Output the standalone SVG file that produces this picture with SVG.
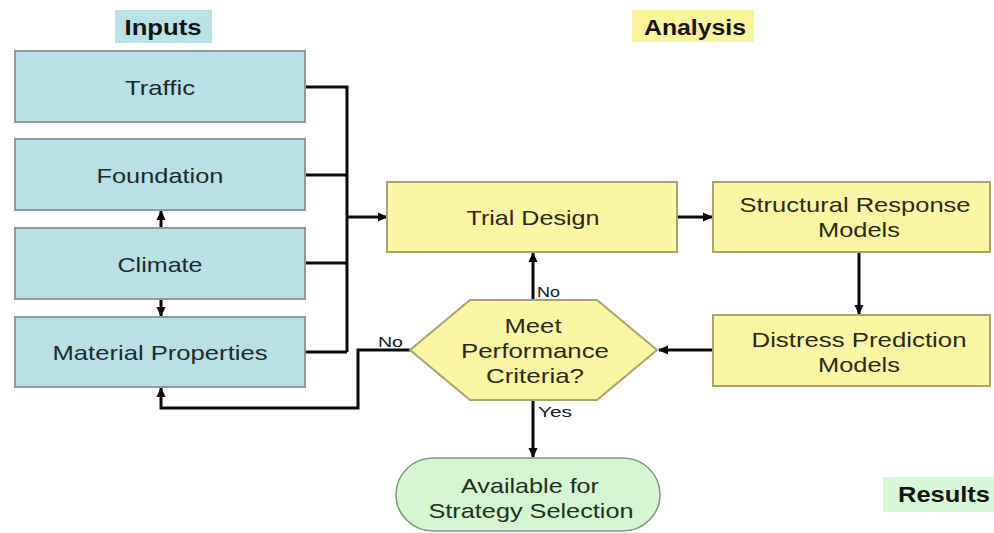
<svg xmlns="http://www.w3.org/2000/svg" width="994" height="533" viewBox="0 0 994 533">
<style>
.bg{fill:#ffffff}
.in{fill:#b9e1e5;stroke:#8c9c9c;stroke-width:2}
.an{fill:#fbf6a4;stroke:#a8a46e;stroke-width:2}
.rs{fill:#d5f5d3;stroke:#7c9a7a;stroke-width:1.5}
.t{font-family:"Liberation Sans",Arial,sans-serif;font-size:21px;text-anchor:middle;fill:#1e2a2a}
.ty{font-family:"Liberation Sans",Arial,sans-serif;font-size:21px;text-anchor:middle;fill:#2a2a14}
.tg{font-family:"Liberation Sans",Arial,sans-serif;font-size:21px;text-anchor:middle;fill:#1e3020}
.lb{font-family:"Liberation Sans",Arial,sans-serif;font-size:22px;font-weight:bold;text-anchor:middle;fill:#141414}
.sm{font-family:"Liberation Sans",Arial,sans-serif;font-size:15px;fill:#1a1a1a}
.c{fill:none;stroke:#0a0a0a;stroke-width:3}
</style>
<defs>
<marker id="ah" markerUnits="userSpaceOnUse" markerWidth="10" markerHeight="10" refX="9" refY="5" orient="auto">
<path d="M0,0.5 L10,5 L0,9.5 z" fill="#0a0a0a"/>
</marker>
</defs>
<rect class="bg" x="0" y="0" width="994" height="533"/>

<g id="label-inputs">
<rect x="115" y="10" width="97" height="33" fill="#b9e2e6"/>
<text class="lb" x="163" y="35" textLength="77" lengthAdjust="spacingAndGlyphs">Inputs</text>
</g>
<g id="label-analysis">
<rect x="632" y="10" width="122" height="32" fill="#fbf59a"/>
<text class="lb" x="695" y="35" textLength="102" lengthAdjust="spacingAndGlyphs">Analysis</text>
</g>
<g id="label-results">
<rect x="883" y="477" width="111" height="35" fill="#d8f6d8"/>
<text class="lb" x="944" y="502" textLength="92" lengthAdjust="spacingAndGlyphs">Results</text>
</g>

<g id="connectors">
<path class="c" d="M305,87 H347 V352"/>
<path class="c" d="M305,175 H347"/>
<path class="c" d="M305,263 H347"/>
<path class="c" d="M305,352 H347"/>
<path class="c" d="M347,217 H387" marker-end="url(#ah)"/>
<path class="c" d="M161,228 V211" marker-end="url(#ah)"/>
<path class="c" d="M161,299 V316" marker-end="url(#ah)"/>
<path class="c" d="M677,217 H712" marker-end="url(#ah)"/>
<path class="c" d="M859,252 V314" marker-end="url(#ah)"/>
<path class="c" d="M713,350 H659" marker-end="url(#ah)"/>
<path class="c" d="M533,300 V253" marker-end="url(#ah)"/>
<path class="c" d="M533,400 V457" marker-end="url(#ah)"/>
<path class="c" d="M410,350 H358 V408 H161 V388" marker-end="url(#ah)"/>
<text class="sm" x="537" y="297" textLength="23" lengthAdjust="spacingAndGlyphs">No</text>
<text class="sm" x="538" y="417" textLength="34" lengthAdjust="spacingAndGlyphs">Yes</text>
<text class="sm" x="378" y="347" textLength="25" lengthAdjust="spacingAndGlyphs">No</text>
</g>

<g id="traffic">
<rect class="in" x="15" y="51" width="290" height="71"/>
<text class="t" x="160" y="95" textLength="70" lengthAdjust="spacingAndGlyphs">Traffic</text>
</g>
<g id="foundation">
<rect class="in" x="15" y="139" width="290" height="71"/>
<text class="t" x="160" y="183" textLength="127" lengthAdjust="spacingAndGlyphs">Foundation</text>
</g>
<g id="climate">
<rect class="in" x="15" y="228" width="290" height="71"/>
<text class="t" x="160" y="272" textLength="85" lengthAdjust="spacingAndGlyphs">Climate</text>
</g>
<g id="material-properties">
<rect class="in" x="15" y="317" width="290" height="70"/>
<text class="t" x="160" y="360" textLength="215" lengthAdjust="spacingAndGlyphs">Material Properties</text>
</g>

<g id="trial-design">
<rect class="an" x="387" y="182" width="290" height="70"/>
<text class="ty" x="533" y="225" textLength="133" lengthAdjust="spacingAndGlyphs">Trial Design</text>
</g>
<g id="structural-response">
<rect class="an" x="713" y="182" width="277" height="70"/>
<text class="ty" x="855" y="212" textLength="231" lengthAdjust="spacingAndGlyphs">Structural Response</text>
<text class="ty" x="859" y="237" textLength="82" lengthAdjust="spacingAndGlyphs">Models</text>
</g>
<g id="distress-prediction">
<rect class="an" x="713" y="315" width="277" height="71"/>
<text class="ty" x="859" y="347" textLength="215" lengthAdjust="spacingAndGlyphs">Distress Prediction</text>
<text class="ty" x="859" y="372" textLength="82" lengthAdjust="spacingAndGlyphs">Models</text>
</g>
<g id="meet-criteria">
<polygon class="an" points="410,350 470,300 597,300 657,350 597,400 470,400"/>
<text class="ty" x="533" y="333" textLength="57" lengthAdjust="spacingAndGlyphs">Meet</text>
<text class="ty" x="535" y="358" textLength="148" lengthAdjust="spacingAndGlyphs">Performance</text>
<text class="ty" x="535" y="383" textLength="98" lengthAdjust="spacingAndGlyphs">Criteria?</text>
</g>
<g id="available">
<rect class="rs" x="396" y="458" width="264" height="73" rx="37" ry="37"/>
<text class="tg" x="530" y="493" textLength="138" lengthAdjust="spacingAndGlyphs">Available for</text>
<text class="tg" x="531" y="518" textLength="205" lengthAdjust="spacingAndGlyphs">Strategy Selection</text>
</g>
</svg>
